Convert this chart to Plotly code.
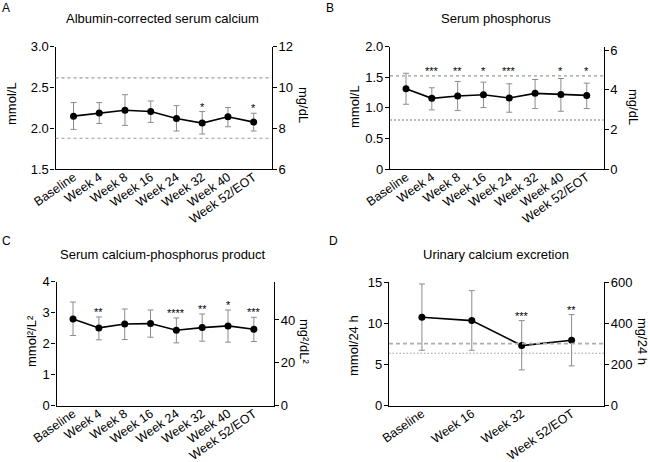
import plotly.graph_objects as go

W, H = 650, 462
FONT = "Arial, Liberation Sans, sans-serif"

# ---------------- data ----------------
weeks8 = ["Baseline", "Week 4", "Week 8", "Week 16", "Week 24", "Week 32", "Week 40", "Week 52/EOT"]
weeks4 = ["Baseline", "Week 16", "Week 32", "Week 52/EOT"]

# A: albumin-corrected serum calcium (mmol/L)
a_mean = [2.147, 2.187, 2.220, 2.204, 2.119, 2.062, 2.139, 2.074]
a_upper = [2.313, 2.313, 2.410, 2.333, 2.276, 2.203, 2.252, 2.183]
a_lower = [1.985, 2.058, 2.034, 2.070, 1.965, 1.928, 2.017, 1.965]
a_stars = ["", "", "", "", "", "*", "", "*"]
a_ref = [2.616, 1.876]

# B: serum phosphorus (mmol/L)
b_mean = [1.310, 1.154, 1.191, 1.213, 1.159, 1.235, 1.218, 1.202]
b_upper = [1.563, 1.326, 1.429, 1.418, 1.391, 1.461, 1.477, 1.402]
b_lower = [1.057, 0.965, 0.954, 1.003, 0.927, 0.987, 0.943, 0.987]
b_stars = ["", "***", "**", "*", "***", "", "*", "*"]
b_ref = [1.52, 0.80]

# C: serum calcium-phosphorus product (mmol²/L²)
c_mean = [2.790, 2.503, 2.631, 2.642, 2.428, 2.513, 2.567, 2.460]
c_upper = [3.337, 2.856, 3.112, 3.080, 2.824, 2.952, 3.080, 2.845]
c_lower = [2.257, 2.118, 2.128, 2.203, 2.021, 2.075, 2.043, 2.064]
c_stars = ["", "**", "", "", "****", "**", "*", "***"]

# D: urinary calcium excretion (mmol/24 h)
d_mean = [10.71, 10.31, 7.28, 7.92]
d_upper = [14.76, 13.95, 10.31, 11.04]
d_lower = [6.71, 6.71, 4.32, 4.81]
d_stars = ["", "", "***", "**"]
d_ref = [7.52, 6.35]

# ---------------- layout helpers ----------------
def px(x, y):
    return x / W, 1 - y / H

REF_STYLES = {
    "a_dash": dict(color="#9a9a9a", width=1.1, dash="3px,3px"),
    "b_dash": dict(color="#9a9a9a", width=1.1, dash="3px,3px"),
    "b_dot": dict(color="#bdbdbd", width=1.8, dash="2px,2px"),
    "d_dash": dict(color="#adadad", width=1.8, dash="4px,3px"),
    "d_dot": dict(color="#9a9a9a", width=1.0, dash="1.5px,2px"),
}

panels = [
    dict(cats=weeks8, mean=a_mean, up=a_upper, lo=a_lower, stars=a_stars, refs=a_ref,
         styles=["a_dash", "a_dash"], xpx=(55.5, 271.7), ypx=(46.5, 169), xr=[-0.7, 7.7],
         yr=[1.5, 3.0], yt=[1.5, 2.0, 2.5, 3.0], ytt=["1.5", "2.0", "2.5", "3.0"],
         y2r=[6, 12], y2t=[6, 8, 10, 12], star_fixed=None),
    dict(cats=weeks8, mean=b_mean, up=b_upper, lo=b_lower, stars=b_stars, refs=b_ref,
         styles=["b_dash", "b_dot"], xpx=(390, 603.5), ypx=(46.5, 169), xr=[-0.62, 7.65],
         yr=[0, 2.0], yt=[0, 0.5, 1.0, 1.5, 2.0], ytt=["0", "0.5", "1.0", "1.5", "2.0"],
         y2r=[0, 6.18], y2t=[0, 2, 4, 6], star_fixed=1.6),
    dict(cats=weeks8, mean=c_mean, up=c_upper, lo=c_lower, stars=c_stars, refs=[],
         styles=[], xpx=(56.5, 274), ypx=(281.5, 405.5), xr=[-0.64, 7.78],
         yr=[0, 4], yt=[0, 1, 2, 3, 4], ytt=["0", "1", "2", "3", "4"],
         y2r=[0, 58], y2t=[0, 20, 40], star_fixed=None),
    dict(cats=weeks4, mean=d_mean, up=d_upper, lo=d_lower, stars=d_stars, refs=d_ref,
         styles=["d_dash", "d_dot"], xpx=(389, 604), ypx=(282, 405.5), xr=[-0.66, 3.65],
         yr=[0, 15], yt=[0, 5, 10, 15], ytt=["0", "5", "10", "15"],
         y2r=[0, 600], y2t=[0, 200, 400, 600], star_fixed=None),
]

fig = go.Figure()
layout = dict(
    template="none",
    width=W, height=H, margin=dict(l=0, r=0, t=0, b=0),
    paper_bgcolor="white", plot_bgcolor="white", showlegend=False,
    font=dict(family=FONT, color="black"),
)
annotations = []
shapes = []

axis_common = dict(showgrid=False, zeroline=False, showline=True, linecolor="black",
                   linewidth=1.3, ticks="outside", ticklen=4, tickwidth=1.3,
                   tickcolor="black", ticklabelstandoff=-1,
                   tickfont=dict(size=13, family=FONT, color="black"))

for i, p in enumerate(panels):
    n = i + 1
    xs = "" if n == 1 else str(n)
    xa, ya, ya2 = "x" + xs, "y" + xs, "y" + str(n + 4)
    x0, x1 = p["xpx"]
    yt_, yb_ = p["ypx"]
    xd = [x0 / W, x1 / W]
    yd = [1 - yb_ / H, 1 - yt_ / H]
    xidx = list(range(len(p["cats"])))

    layout["xaxis" + xs] = dict(
        domain=xd, anchor=ya, range=p["xr"], tickmode="array", tickvals=xidx,
        ticktext=p["cats"], tickangle=-35, showgrid=False, zeroline=False,
        showline=True, linecolor="black", linewidth=1.3, ticks="",
        ticklabelstandoff=-5,
        tickfont=dict(size=12.5, family=FONT, color="black"))
    layout["yaxis" + xs] = dict(
        domain=yd, anchor=xa, range=p["yr"], tickmode="array", tickvals=p["yt"],
        ticktext=p["ytt"], **axis_common)
    layout["yaxis" + str(n + 4)] = dict(
        domain=yd, anchor=xa, overlaying=ya, side="right", range=p["y2r"],
        tickmode="array", tickvals=p["y2t"], **axis_common)

    # reference lines
    for r, st in zip(p["refs"], p["styles"]):
        shapes.append(dict(type="line", xref=xa + " domain", yref=ya, x0=0, x1=1,
                           y0=r, y1=r, line=REF_STYLES[st]))

    err_up = [u - m for u, m in zip(p["up"], p["mean"])]
    err_lo = [m - l for m, l in zip(p["mean"], p["lo"])]
    fig.add_trace(go.Scatter(
        x=xidx, y=p["mean"], xaxis=xa, yaxis=ya, mode="lines+markers",
        line=dict(color="black", width=1.6),
        marker=dict(color="black", size=7),
        error_y=dict(type="data", symmetric=False, array=err_up, arrayminus=err_lo,
                     color="#8c8c8c", thickness=1, width=3),
        hoverinfo="skip"))
    # invisible trace to carry the right axis
    fig.add_trace(go.Scatter(x=[xidx[0]], y=[p["y2r"][0]], xaxis=xa, yaxis=ya2,
                             mode="markers", marker=dict(opacity=0), hoverinfo="skip"))

    for j, s in enumerate(p["stars"]):
        if not s:
            continue
        if p["star_fixed"] is not None:
            annotations.append(dict(x=xidx[j], y=p["star_fixed"], xref=xa, yref=ya,
                                    text=s, showarrow=False, yanchor="middle",
                                    font=dict(size=11, family=FONT, color="black")))
        else:
            annotations.append(dict(x=xidx[j], y=p["up"][j], xref=xa, yref=ya,
                                    text=s, showarrow=False, yanchor="bottom", yshift=-3,
                                    font=dict(size=11, family=FONT, color="black")))

def ann(text, x, y, size, angle=0):
    xx, yy = px(x, y)
    annotations.append(dict(text=text, x=xx, y=yy, xref="paper", yref="paper",
                            showarrow=False, textangle=angle, xanchor="center",
                            yanchor="middle", font=dict(size=size, family=FONT, color="black")))

# panel letters
ann("A", 6, 8, 12)
ann("B", 330, 8, 12)
ann("C", 6, 241, 12)
ann("D", 333, 241, 12)
# titles
ann("Albumin-corrected serum calcium", 163, 18, 13)
ann("Serum phosphorus", 496, 18, 13)
ann("Serum calcium-phosphorus product", 163, 254, 13)
ann("Urinary calcium excretion", 496, 254, 13)
# axis titles
ann("mmol/L", 11, 104, 13, -90)
ann("mg/dL", 304, 105, 13, 90)
ann("mmol/L", 354, 107, 13, -90)
ann("mg/dL", 634, 107, 13, 90)
ann("mmol²/L²", 31, 341, 13, -90)
ann("mg²/dL²", 305, 341, 13, 90)
ann("mmol/24 h", 353, 346, 13, -90)
ann("mg/24 h", 643, 341, 13, 90)

layout["annotations"] = annotations
layout["shapes"] = shapes
fig.update_layout(**layout)
fig.write_html("out.html", config={"displayModeBar": False},
               post_script="document.body.style.margin='0';")
